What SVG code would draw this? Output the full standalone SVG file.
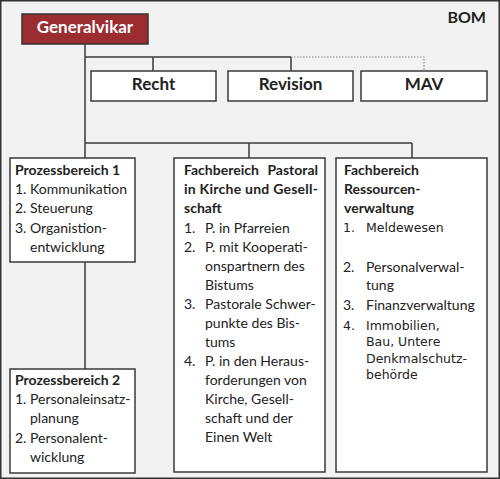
<svg xmlns="http://www.w3.org/2000/svg" width="500" height="479" viewBox="0 0 500 479">
<style>
.box{fill:#fff;stroke:#3a3a3a;stroke-width:1.5}
.t{font-family:Lato,"Open Sans",sans-serif;font-size:14px;fill:#222}
.b{font-weight:bold}
.v{font-family:"DejaVu Sans",Verdana,sans-serif;font-size:12.5px;fill:#222}
.h{font-family:Lato,"Open Sans",sans-serif;font-size:17px;font-weight:bold;fill:#222;text-anchor:middle}
.ln{stroke:#3a3a3a;stroke-width:1.5;fill:none}
.dot{stroke:#888;stroke-width:1.2;stroke-dasharray:1.5 1.5;fill:none}
</style>
<rect x="0.75" y="0.75" width="498.5" height="477.5" fill="#f2f2f2" stroke="#333" stroke-width="1.5"/>
<text x="486" y="23" class="t b" style="font-size:16px" text-anchor="end">BOM</text>
<g id="connectors">
<path class="ln" d="M85,44 V158 M85,262 V369 M85,57 H291 M153,57 V71 M291,57 V71 M85,143 H412 M249,143 V158 M412,143 V158"/>
<path class="dot" d="M291,57 H424 V71"/>
</g>
<g id="generalvikar">
<rect x="22" y="14" width="126" height="30" fill="#9b2d31" stroke="#333" stroke-width="1.5"/>
<text x="85" y="33" class="h" style="fill:#fff">Generalvikar</text>
</g>
<g id="recht">
<rect class="box" x="91" y="71" width="125" height="30"/>
<text x="153.5" y="90" class="h">Recht</text>
</g>
<g id="revision">
<rect class="box" x="228" y="71" width="125" height="30"/>
<text x="290.5" y="90" class="h">Revision</text>
</g>
<g id="mav">
<rect class="box" x="361" y="71" width="126" height="30"/>
<text x="424" y="90" class="h">MAV</text>
</g>
<g id="prozessbereich1">
<rect class="box" x="10" y="158" width="125" height="104"/>
<text x="15" y="175" class="t b">Prozessbereich 1</text>
<text x="15" y="194" class="t">1.</text><text x="30" y="194" class="t">Kommunikation</text>
<text x="15" y="213" class="t">2.</text><text x="30" y="213" class="t">Steuerung</text>
<text x="15" y="233" class="t">3.</text><text x="30" y="233" class="t">Organistion-</text>
<text x="30" y="252" class="t">entwicklung</text>
</g>
<g id="prozessbereich2">
<rect class="box" x="10" y="369" width="125" height="104"/>
<text x="15" y="385" class="t b">Prozessbereich 2</text>
<text x="15" y="404" class="t">1.</text><text x="30" y="404" class="t">Personaleinsatz-</text>
<text x="30" y="423" class="t">planung</text>
<text x="15" y="443" class="t">2.</text><text x="30" y="443" class="t">Personalent-</text>
<text x="30" y="462" class="t">wicklung</text>
</g>
<g id="fachbereich-pastoral">
<rect class="box" x="174" y="158" width="151" height="314"/>
<text x="184" y="175" class="t b">Fachbereich</text><text x="318" y="175" class="t b" text-anchor="end">Pastoral</text>
<text x="184" y="194" class="t b" textLength="134" lengthAdjust="spacing">in Kirche und Gesell-</text>
<text x="184" y="213" class="t b">schaft</text>
<text x="184" y="233" class="t">1.</text><text x="205" y="233" class="t">P. in Pfarreien</text>
<text x="184" y="252" class="t">2.</text><text x="205" y="252" class="t">P. mit Kooperati-</text>
<text x="205" y="271" class="t">onspartnern des</text>
<text x="205" y="290" class="t">Bistums</text>
<text x="184" y="309" class="t">3.</text><text x="205" y="309" class="t">Pastorale Schwer-</text>
<text x="205" y="328" class="t">punkte des Bis-</text>
<text x="205" y="347" class="t">tums</text>
<text x="184" y="366" class="t">4.</text><text x="205" y="366" class="t">P. in den Heraus-</text>
<text x="205" y="385" class="t">forderungen von</text>
<text x="205" y="404" class="t">Kirche, Gesell-</text>
<text x="205" y="423" class="t">schaft und der</text>
<text x="205" y="442" class="t">Einen Welt</text>
</g>
<g id="fachbereich-ressourcen">
<rect class="box" x="336" y="158" width="151" height="314"/>
<text x="344" y="175" class="t b">Fachbereich</text>
<text x="344" y="194" class="t b">Ressourcen-</text>
<text x="344" y="213" class="t b">verwaltung</text>
<text x="343" y="232" class="v">1.</text><text x="366" y="232" class="v">Meldewesen</text>
<text x="343" y="272" class="t">2.</text><text x="366" y="272" class="t">Personalverwal-</text>
<text x="366" y="290" class="t">tung</text>
<text x="343" y="310" class="t">3.</text><text x="366" y="310" class="t">Finanzverwaltung</text>
<text x="343" y="330" class="v">4.</text><text x="366" y="330" class="v">Immobilien,</text>
<text x="366" y="346" class="v">Bau, Untere</text>
<text x="366" y="363" class="v">Denkmalschutz-</text>
<text x="366" y="379" class="v">behörde</text>
</g>
</svg>
